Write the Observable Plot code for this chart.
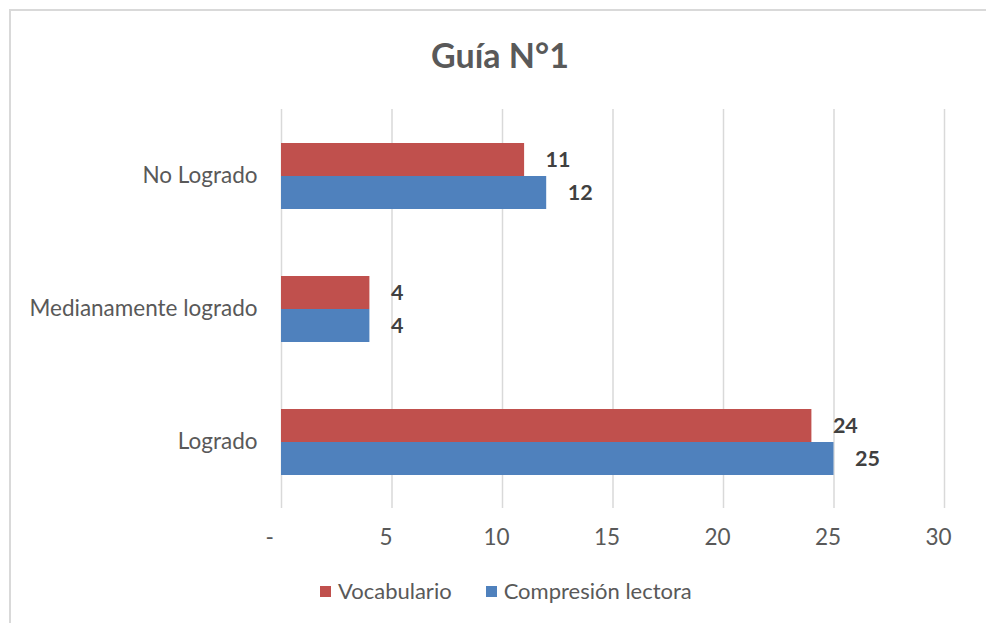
<!DOCTYPE html>
<html>
<head>
<meta charset="utf-8">
<script src="https://cdn.jsdelivr.net/npm/d3@7"></script>
<script src="https://cdn.jsdelivr.net/npm/@observablehq/plot@0.6"></script>
<style>
  html, body { margin: 0; padding: 0; background: #fff; }
  #wrap { position: relative; width: 986px; height: 623px; overflow: hidden; font-family: Lato, "Open Sans", sans-serif; }
  #frame { position: absolute; left: 9px; top: 9px; width: 1100px; height: 800px; border: 2px solid #d9d9d9; box-sizing: border-box; }
  #title { position: absolute; left: 0; width: 1000px; top: 35px; text-align: center; font-size: 34px; font-weight: bold; color: #595959; line-height: 40px; }
  #chart { position: absolute; left: 0; top: 100px; }
  #legend { position: absolute; top: 577px; left: 320px; display: flex; align-items: center; font-size: 22px; line-height: 28px; color: #595959; white-space: nowrap; }
  .sw { display: inline-block; width: 11px; height: 11px; margin-right: 7px; }
  .item { display: flex; align-items: center; margin-right: 34px; }
</style>
</head>
<body>
<div id="wrap">
  <div id="frame"></div>
  <div id="title">Guía N°1</div>
  <div id="chart"></div>
  <div id="legend"></div>
</div>
<script>
const categories = ["No Logrado", "Medianamente logrado", "Logrado"];
const seriesNames = ["Vocabulario", "Compresión lectora"];
const vocabulario = [11, 4, 24];
const comprension = [12, 4, 25];
const xTicks = [0, 5, 10, 15, 20, 25, 30];
const colors = ["#C0504D", "#4F81BD"];

const rows = [];
categories.forEach((c, i) => {
  rows.push({category: c, series: seriesNames[0], value: vocabulario[i]});
  rows.push({category: c, series: seriesNames[1], value: comprension[i]});
});

const chart = Plot.plot({
  width: 986,
  height: 458,
  marginTop: 8,
  marginBottom: 50,
  marginLeft: 281,
  marginRight: 42,
  style: {fontFamily: "Lato, 'Open Sans', sans-serif", fontSize: "22.5px", color: "#595959", background: "transparent"},
  x: {domain: [0, 30], label: null},
  y: {domain: seriesNames, axis: null, paddingInner: 0, paddingOuter: 0.96},
  fy: {domain: categories, padding: 0, label: null, tickSize: 0, tickPadding: 24},
  color: {domain: seriesNames, range: colors},
  marks: [
    Plot.ruleX(xTicks.slice(1), {stroke: "#d9d9d9", strokeWidth: 1.5}),
    Plot.ruleX([0], {stroke: "#d9d9d9", strokeWidth: 1.5}),
    Plot.barX(rows, {fy: "category", y: "series", x: "value", fill: "series"}),
    Plot.text(rows, {fy: "category", y: "series", x: "value", text: d => String(d.value), dx: 21, textAnchor: "start", fontWeight: "bold", fill: "#404040", fontSize: 21.5}),
    Plot.axisX({ticks: xTicks, tickFormat: d => d === 0 ? "-\u00a0\u00a0" : String(d), tickSize: 0, tickPadding: 21, dx: -6, label: null})
  ]
});
document.getElementById("chart").appendChild(chart);

const legend = document.getElementById("legend");
seriesNames.forEach((s, i) => {
  const item = document.createElement("span");
  item.className = "item";
  const sw = document.createElement("span");
  sw.className = "sw";
  sw.style.background = colors[i];
  item.appendChild(sw);
  item.appendChild(document.createTextNode(s));
  legend.appendChild(item);
});
</script>
</body>
</html>
